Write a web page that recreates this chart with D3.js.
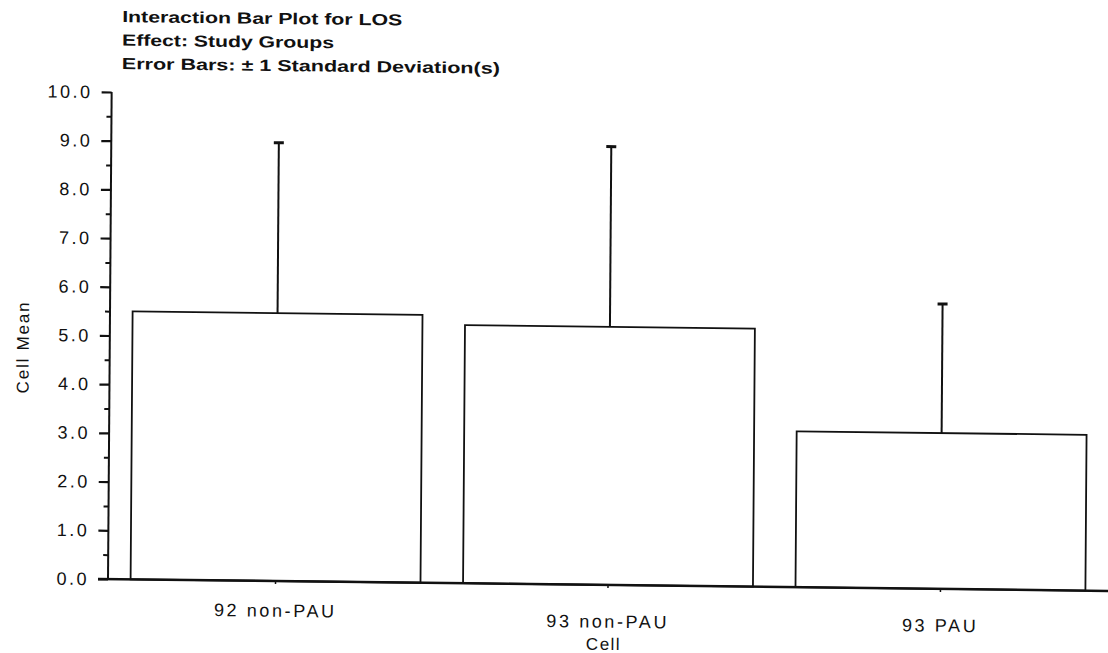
<!DOCTYPE html>
<html>
<head>
<meta charset="utf-8">
<script src="https://cdn.jsdelivr.net/npm/d3@7"></script>
<style>
  html, body { margin: 0; padding: 0; background: #fff; }
  svg { display: block; }
  text { font-family: "Liberation Sans", Arial, sans-serif; fill: #111; }
</style>
</head>
<body>
<svg id="chart" width="1108" height="653"></svg>
<script>
// Cell means and standard deviations of length of stay per study group
const categories = ["92 non-PAU", "93 non-PAU", "93 PAU"];
const cellMeans = [5.5, 5.3, 3.2];
const stdDevs = [3.5, 3.7, 2.65];

// Axis ticks
const yMajorTicks = [0, 1, 2, 3, 4, 5, 6, 7, 8, 9, 10];
const yMinorTicks = [0.5, 1.5, 2.5, 3.5, 4.5, 5.5, 6.5, 7.5, 8.5, 9.5];

// Header and axis titles
const titleLines = [
  "Interaction Bar Plot for LOS",
  "Effect: Study Groups",
  "Error Bars: \u00B1 1 Standard Deviation(s)"
];
const yTitle = "Cell Mean";
const xTitle = "Cell";

// layout: widths of the header lines and extra drop of each category label
const titleWidths = [280, 212, 378];
const labelDrop = [0, 7, 7];

const svg = d3.select("#chart");
const ox = 108, oy = 579;

// the printed page sits slightly askew
const g = svg.append("g")
  .attr("transform", `translate(${ox},${oy}) matrix(1,0.0119,-0.0075,1,0,0) translate(${-ox},${-oy})`);

const x = d3.scaleBand()
  .domain(categories)
  .range([108, 1108])
  .paddingInner(0.128)
  .paddingOuter(0.068);

const y = d3.scaleLinear().domain([0, 10]).range([579, 92]);

// title block
g.append("g").selectAll("text")
  .data(titleLines)
  .join("text")
  .attr("x", 118)
  .attr("y", (d, i) => 22 + i * 23.5)
  .attr("font-size", 16)
  .attr("font-weight", "bold")
  .attr("textLength", (d, i) => titleWidths[i])
  .attr("lengthAdjust", "spacingAndGlyphs")
  .text(d => d);

// y axis: major ticks with labels
const yAxis = d3.axisLeft(y)
  .tickValues(yMajorTicks)
  .tickSize(10)
  .tickPadding(9)
  .tickFormat(d3.format(".1f"));

const yg = g.append("g").attr("transform", `translate(${ox},0)`).call(yAxis);
yg.select(".domain").remove();
yg.selectAll(".tick line").attr("stroke", "#111").attr("stroke-width", 2.2);
yg.selectAll(".tick text")
  .attr("font-size", 18)
  .attr("letter-spacing", "2.5px")
  .attr("fill", "#111")
  .style("font-family", "'Liberation Sans', Arial, sans-serif");

// y axis minor ticks
g.append("g").attr("transform", `translate(${ox},0)`)
  .call(d3.axisLeft(y).tickValues(yMinorTicks).tickSize(5).tickFormat(""))
  .call(s => s.select(".domain").remove())
  .selectAll(".tick line").attr("stroke", "#111").attr("stroke-width", 2);

// y axis line
g.append("line")
  .attr("x1", ox).attr("x2", ox)
  .attr("y1", y(10)).attr("y2", y(0))
  .attr("stroke", "#111").attr("stroke-width", 2);

// error bars (+1 SD above each mean)
const eb = g.append("g");
eb.selectAll("line.stem")
  .data(categories)
  .join("line")
  .attr("class", "stem")
  .attr("x1", d => x(d) + x.bandwidth() / 2)
  .attr("x2", d => x(d) + x.bandwidth() / 2)
  .attr("y1", (d, i) => y(cellMeans[i]))
  .attr("y2", (d, i) => y(cellMeans[i] + stdDevs[i]))
  .attr("stroke", "#111").attr("stroke-width", 2);
eb.selectAll("line.cap")
  .data(categories)
  .join("line")
  .attr("class", "cap")
  .attr("x1", d => x(d) + x.bandwidth() / 2 - 5)
  .attr("x2", d => x(d) + x.bandwidth() / 2 + 5)
  .attr("y1", (d, i) => y(cellMeans[i] + stdDevs[i]))
  .attr("y2", (d, i) => y(cellMeans[i] + stdDevs[i]))
  .attr("stroke", "#111").attr("stroke-width", 3);

// bars
g.append("g").selectAll("rect")
  .data(categories)
  .join("rect")
  .attr("x", d => x(d))
  .attr("width", x.bandwidth())
  .attr("y", (d, i) => y(cellMeans[i]))
  .attr("height", (d, i) => y(0) - y(cellMeans[i]))
  .attr("fill", "#fff")
  .attr("stroke", "#111")
  .attr("stroke-width", 1.8);

// x axis
const xAxis = d3.axisBottom(x).tickSize(3).tickPadding(20);
const xg = g.append("g").attr("transform", `translate(0,${y(0)})`).call(xAxis);
xg.select(".domain").remove();
xg.selectAll(".tick line").attr("stroke", "#111").attr("stroke-width", 1.5);
xg.selectAll(".tick text")
  .attr("font-size", 18)
  .attr("letter-spacing", "2.6px")
  .attr("fill", "#111")
  .attr("transform", (d, i) => `translate(0,${labelDrop[i]})`)
  .style("font-family", "'Liberation Sans', Arial, sans-serif");

// baseline
g.append("line")
  .attr("x1", 98).attr("x2", 1108)
  .attr("y1", y(0)).attr("y2", y(0))
  .attr("stroke", "#111").attr("stroke-width", 2.5);

// axis titles
g.append("text")
  .attr("x", 604).attr("y", 644)
  .attr("text-anchor", "middle")
  .attr("font-size", 17)
  .attr("letter-spacing", "1.5px")
  .text(xTitle);

g.append("text")
  .attr("transform", "translate(27,348) rotate(-90)")
  .attr("text-anchor", "middle")
  .attr("font-size", 17)
  .attr("letter-spacing", "1.8px")
  .text(yTitle);
</script>
</body>
</html>
